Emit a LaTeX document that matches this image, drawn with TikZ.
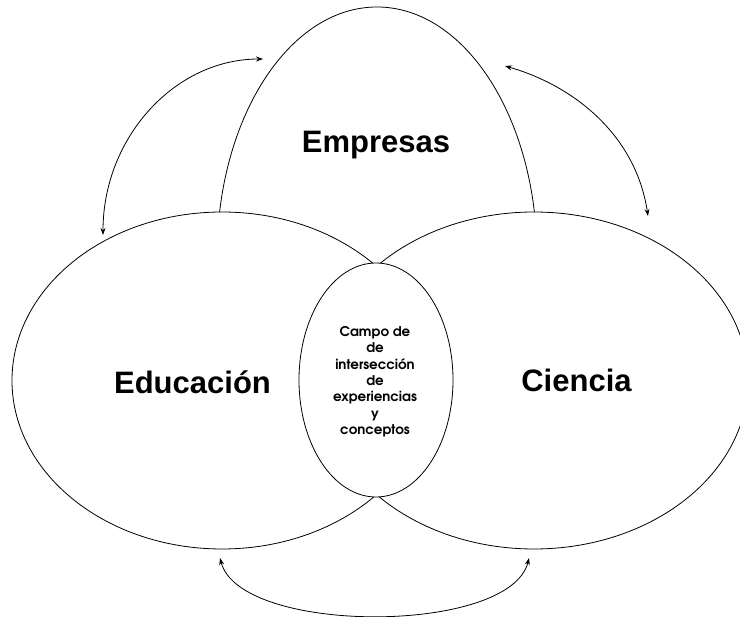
\documentclass[tikz,border=0pt]{standalone}
\usepackage{fontspec}
\setmainfont{Liberation Sans}
\newfontfamily\gothic{texgyreadventor-bold.otf}
\usetikzlibrary{shapes.geometric,arrows.meta}
\begin{document}
\begin{tikzpicture}[x=1pt,y=-1pt,
  circ/.style={ellipse, draw=black, line width=0.8pt, fill=white, inner sep=0pt},
  biglabel/.style={font=\fontsize{31}{36}\selectfont\bfseries, anchor=base, inner sep=0pt},
  link/.style={line width=0.8pt, {Stealth[length=7pt,width=5pt]}-{Stealth[length=7pt,width=5pt]}}]
\path[use as bounding box, fill=white] (0,0) rectangle (740,617);
\begin{scope}
  \clip (0,0) rectangle (740,300);
  \node[circ, minimum width=320pt, minimum height=500pt] (emp) at (377,257) {};
\end{scope}
\node[circ, minimum width=420pt, minimum height=337pt] (edu) at (222,380.5) {};
\node[circ, minimum width=428pt, minimum height=337pt] (cie) at (534,380.5) {};
\node[circ, minimum width=154pt, minimum height=234pt] (mid) at (376,380) {};
\node[biglabel] (lemp) at (376,153) {Empresas};
\node[biglabel] (ledu) at (192.5,394) {Educación};
\node[biglabel] (lcie) at (576.5,392) {Ciencia};
\node[font=\gothic\fontsize{13.4}{16.3}\selectfont, align=center, anchor=base, inner sep=0pt] (txt) at (375,434.5)
  {Campo de\\de\\intersección\\de\\experiencias\\y\\conceptos};
\coordinate (a1s) at (103,235);
\coordinate (a1e) at (263,59);
\coordinate (a2s) at (505,66);
\coordinate (a2e) at (648,216);
\coordinate (a3s) at (220,558);
\coordinate (a3e) at (529,558);
\draw[link] (a1s) .. controls (103,137.8) and (174.6,59) .. (a1e);
\draw[link] (a2s) .. controls (575,86) and (636,136) .. (a2e);
\draw[link] (a3s) .. controls (240,635) and (510,635) .. (a3e);
\end{tikzpicture}
\end{document}
